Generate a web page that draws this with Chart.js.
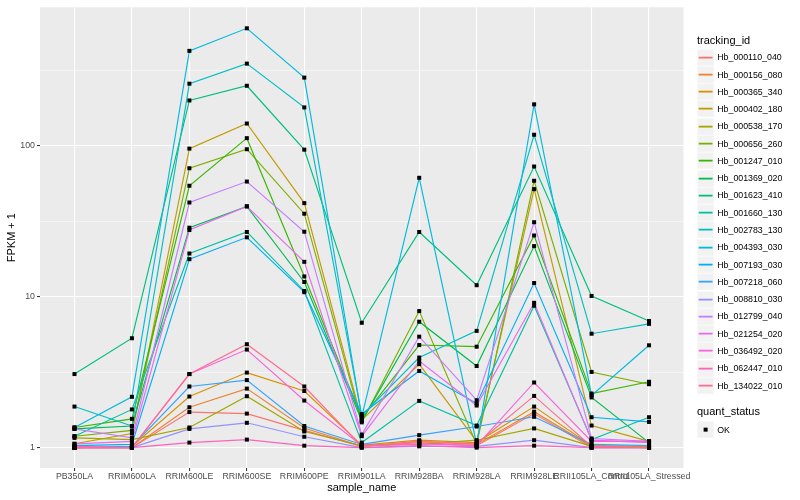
<!DOCTYPE html>
<html><head><meta charset="utf-8">
<script src="https://cdn.jsdelivr.net/npm/chart.js@4.4.0/dist/chart.umd.min.js"></script>
<style>
html,body{margin:0;padding:0;background:#fff;}
#wrap{position:relative;width:800px;height:500px;font-family:"Liberation Sans",Arial,Helvetica,sans-serif;}
#c{position:absolute;left:0;top:0;}
.ttl{position:absolute;font-size:11px;line-height:13px;color:#000;white-space:nowrap;}
.key{position:absolute;}
.key svg{display:block;}
.lab{position:absolute;font-size:8.8px;line-height:10px;color:#000;white-space:nowrap;}
</style></head>
<body><div id="wrap"><canvas id="c" width="800" height="500"></canvas><div id="legend"></div></div>
<script>
// ---- data ----
const categories = ["PB350LA","RRIM600LA","RRIM600LE","RRIM600SE","RRIM600PE","RRIM901LA","RRIM928BA","RRIM928LA","RRIM928LE","RRII105LA_Control","RRII105LA_Stressed"];
const seriesNames = ["Hb_000110_040","Hb_000156_080","Hb_000365_340","Hb_000402_180","Hb_000538_170","Hb_000656_260","Hb_001247_010","Hb_001369_020","Hb_001623_410","Hb_001660_130","Hb_002783_130","Hb_004393_030","Hb_007193_030","Hb_007218_060","Hb_008810_030","Hb_012799_040","Hb_021254_020","Hb_036492_020","Hb_062447_010","Hb_134022_010"];
const seriesColors = ["#F8766D","#EA8331","#D89000","#C09B00","#A3A500","#7CAE00","#39B600","#00BB4E","#00BF7D","#00C1A3","#00BFC4","#00BAE0","#00B0F6","#35A2FF","#9590FF","#C77CFF","#E76BF3","#FA62DB","#FF62BC","#FF6C91"];

const Hb_000110_040 = [1.0, 1.0, 1.72, 1.68, 1.30, 1.02, 1.08, 1.03, 1.68, 1.0, 1.0];
const Hb_000156_080 = [1.0, 1.0, 1.85, 2.46, 1.35, 1.02, 1.10, 1.05, 1.73, 1.02, 1.0];
const Hb_000365_340 = [1.0, 1.02, 2.18, 3.14, 2.37, 1.04, 1.12, 1.08, 1.87, 1.03, 1.02];
const Hb_000402_180 = [1.06, 1.24, 95.5, 140, 41.6, 1.52, 3.57, 1.10, 51.5, 1.40, 1.10];
const Hb_000538_170 = [1.16, 1.13, 1.36, 2.19, 1.28, 1.03, 1.05, 1.12, 1.34, 1.02, 1.0];
const Hb_000656_260 = [1.19, 1.30, 70.8, 94.6, 35.4, 1.47, 8.02, 1.05, 58.5, 3.17, 2.63];
const Hb_001247_010 = [1.36, 1.55, 54.2, 112, 13.6, 1.57, 4.78, 4.66, 25.4, 2.28, 2.73];
const Hb_001369_020 = [1.33, 1.39, 28.6, 39.6, 12.5, 1.50, 6.82, 3.47, 21.6, 2.15, 1.08];
const Hb_001623_410 = [3.07, 5.3, 199, 249, 94, 6.71, 26.8, 11.9, 72.7, 10.1, 6.89];
const Hb_001660_130 = [1.19, 1.79, 19.3, 26.8, 10.9, 1.08, 2.04, 1.40, 8.7, 1.13, 1.59];
const Hb_002783_130 = [1.87, 1.39, 257, 349, 179, 1.63, 3.95, 5.93, 118, 5.68, 6.6];
const Hb_004393_030 = [1.36, 2.17, 424, 598, 282, 1.60, 61.2, 1.05, 187.5, 2.22, 4.76];
const Hb_007193_030 = [1.03, 1.05, 17.7, 24.7, 10.7, 1.67, 3.22, 1.96, 12.3, 1.59, 1.48];
const Hb_007218_060 = [1.0, 1.02, 2.54, 2.80, 1.39, 1.05, 1.21, 1.38, 1.60, 1.05, 1.03];
const Hb_008810_030 = [1.0, 1.0, 1.33, 1.46, 1.18, 1.0, 1.02, 1.02, 1.12, 1.0, 1.0];
const Hb_012799_040 = [1.33, 1.16, 42.0, 57.8, 26.9, 1.22, 5.43, 2.06, 31.1, 1.15, 1.10];
const Hb_021254_020 = [1.06, 1.10, 27.6, 39.6, 17.0, 1.19, 3.75, 1.90, 9.1, 1.12, 1.08];
const Hb_036492_020 = [1.02, 1.0, 3.07, 4.46, 2.05, 1.03, 1.06, 1.03, 2.70, 1.10, 1.10];
const Hb_062447_010 = [1.0, 1.0, 1.08, 1.13, 1.03, 1.0, 1.03, 1.0, 1.03, 1.0, 1.0];
const Hb_134022_010 = [1.0, 1.0, 3.07, 4.84, 2.54, 1.02, 1.10, 1.06, 2.20, 1.02, 1.0];

const seriesValues = [Hb_000110_040,Hb_000156_080,Hb_000365_340,Hb_000402_180,Hb_000538_170,Hb_000656_260,Hb_001247_010,Hb_001369_020,Hb_001623_410,Hb_001660_130,Hb_002783_130,Hb_004393_030,Hb_007193_030,Hb_007218_060,Hb_008810_030,Hb_012799_040,Hb_021254_020,Hb_036492_020,Hb_062447_010,Hb_134022_010];

const yMajorBreaks = [1, 10, 100];
const yTickLabels = ["1", "10", "100"];
const yMinorBreaks = [3.1623, 31.623, 316.23];
const quantStatus = ["OK"];

// ---- style ----
const FONT = '"Liberation Sans", Arial, Helvetica, sans-serif';
const Y_MIN = 0.733, Y_MAX = 824;
const X_EXPAND = 0.6;
const POINT_SIZE = 4;

const datasets = seriesNames.map((name, i) => ({
  label: name,
  data: seriesValues[i].map((v, j) => ({x: j, y: v})),
  borderColor: seriesColors[i],
  backgroundColor: seriesColors[i],
  borderWidth: 1.15,
  pointRadius: 0,
  pointHoverRadius: 0,
  tension: 0,
  fill: false,
  order: seriesNames.length - i
}));

const panelBg = {
  id: 'panelBg',
  beforeDraw(chart) {
    const {ctx, chartArea: a} = chart;
    ctx.save();
    ctx.fillStyle = '#EBEBEB';
    ctx.fillRect(a.left, a.top, a.right - a.left, a.bottom - a.top);
    ctx.restore();
  }
};
const pointsOnTop = {
  id: 'pointsOnTop',
  afterDatasetsDraw(chart) {
    const ctx = chart.ctx;
    ctx.save();
    ctx.fillStyle = '#000';
    chart.getSortedVisibleDatasetMetas().forEach(meta => {
      meta.data.forEach(pt => {
        ctx.fillRect(pt.x - POINT_SIZE / 2, pt.y - POINT_SIZE / 2, POINT_SIZE, POINT_SIZE);
      });
    });
    ctx.restore();
  }
};

const isMajorY = v => yMajorBreaks.some(b => Math.abs(b - v) < 1e-9);

new Chart(document.getElementById('c'), {
  type: 'line',
  data: { datasets },
  plugins: [panelBg, pointsOnTop],
  options: {
    responsive: false,
    animation: false,
    devicePixelRatio: 1,
    layout: { padding: { left: 0, top: 5, right: 116.5, bottom: 0 } },
    plugins: { legend: { display: false }, tooltip: { enabled: false } },
    events: [],
    scales: {
      x: {
        type: 'linear',
        bounds: 'data',
        min: -X_EXPAND,
        max: categories.length - 1 + X_EXPAND,
        afterBuildTicks: s => { s.ticks = categories.map((c, j) => ({ value: j })); },
        ticks: {
          callback: v => categories[v] ?? '',
          autoSkip: false, maxRotation: 0, minRotation: 0,
          color: '#4D4D4D', font: { size: 8.8, family: FONT }, padding: 0.5
        },
        grid: { color: '#FFFFFF', lineWidth: 1.07, drawTicks: true, tickLength: 3, tickColor: '#333333', tickWidth: 1.07 },
        border: { display: false },
        title: { display: true, text: 'sample_name', color: '#000', font: { size: 11, family: FONT }, padding: { top: 0, bottom: 5.4 } },
        afterFit: s => { s.height = 32; }
      },
      y: {
        type: 'logarithmic',
        bounds: 'data',
        min: Y_MIN,
        max: Y_MAX,
        afterBuildTicks: s => {
          s.ticks = yMajorBreaks.concat(yMinorBreaks).sort((a, b) => a - b).map(v => ({ value: v }));
        },
        ticks: {
          callback: v => { const k = yMajorBreaks.findIndex(b => Math.abs(b - v) < 1e-9); return k >= 0 ? yTickLabels[k] : ''; },
          color: '#4D4D4D', font: { size: 8.8, family: FONT }, padding: 2, autoSkip: false
        },
        grid: {
          color: '#FFFFFF',
          lineWidth: c => isMajorY(c.tick.value) ? 1.07 : 0.53,
          drawTicks: true, tickLength: 3,
          tickColor: c => isMajorY(c.tick.value) ? '#333333' : 'rgba(0,0,0,0)',
          tickWidth: 1.07
        },
        border: { display: false },
        title: { display: true, text: 'FPKM + 1', color: '#000', font: { size: 11, family: FONT }, padding: { top: 5.4, bottom: 0 } },
        afterFit: s => { s.width = 40; }
      }
    }
  }
});

// ---- legend (HTML text, SVG keys) ----
const lg = document.getElementById('legend');
const LX = 697, KEY = 17.28, TOP0 = 48.6;
function add(html){ lg.insertAdjacentHTML('beforeend', html); }
function keySvg(inner){
  return `<svg width="${KEY}" height="${KEY}" viewBox="0 0 ${KEY} ${KEY}"><rect x="0.5" y="0.5" width="${KEY-1}" height="${KEY-1}" fill="#F2F2F2"/>${inner}</svg>`;
}
add(`<div class="ttl" style="left:${LX}px;top:${40 - 6.5}px">tracking_id</div>`);
seriesNames.forEach((n, i) => {
  const t = TOP0 + i * KEY;
  add(`<div class="key" style="left:${LX}px;top:${t}px">${keySvg(`<line x1="1.7" x2="${KEY-1.7}" y1="${KEY/2}" y2="${KEY/2}" stroke="${seriesColors[i]}" stroke-width="1.8"/>`)}</div>`);
  add(`<div class="lab" style="left:${LX + KEY + 3}px;top:${t + KEY / 2 - 5}px">${n}</div>`);
});
const t2 = TOP0 + seriesNames.length * KEY + 11;
add(`<div class="ttl" style="left:${LX}px;top:${t2}px">quant_status</div>`);
quantStatus.forEach((q, i) => {
  const t = t2 + 16 + i * KEY;
  add(`<div class="key" style="left:${LX}px;top:${t}px">${keySvg(`<rect x="${KEY/2-2}" y="${KEY/2-2}" width="4" height="4" fill="#000"/>`)}</div>`);
  add(`<div class="lab" style="left:${LX + KEY + 3}px;top:${t + KEY / 2 - 5}px">${q}</div>`);
});
</script>
</body></html>
